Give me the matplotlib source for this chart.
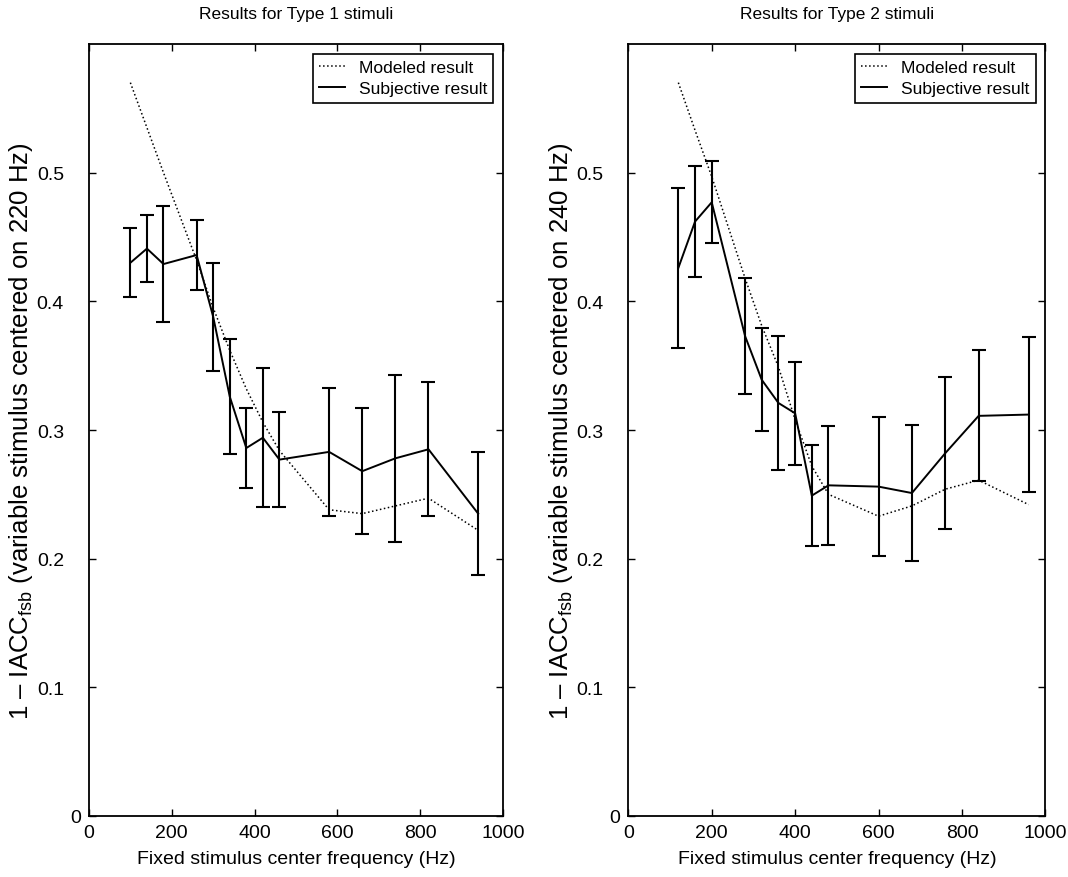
import numpy as np
import matplotlib
matplotlib.use("Agg")
import matplotlib.pyplot as plt
from matplotlib.transforms import ScaledTranslation

plt.rcParams['font.family'] = ['Liberation Sans', 'DejaVu Sans']
plt.rcParams['mathtext.fontset'] = 'custom'
plt.rcParams['mathtext.rm'] = 'Liberation Sans'
plt.rcParams['mathtext.it'] = 'Liberation Sans'

# Type 1 stimuli (variable stimulus centred on 220 Hz)
freq1 = [100, 140, 180, 260, 300, 340, 380, 420, 460, 580, 660, 740, 820, 940]
subj1 = [0.430, 0.441, 0.429, 0.436, 0.388, 0.326, 0.286, 0.294, 0.277, 0.283, 0.268, 0.278, 0.285, 0.235]
err1 = [0.027, 0.026, 0.045, 0.027, 0.042, 0.045, 0.031, 0.054, 0.037, 0.050, 0.049, 0.065, 0.052, 0.048]
model1 = [0.570, 0.535, 0.500, 0.432, 0.395, 0.362, 0.332, 0.306, 0.284, 0.238, 0.235, 0.241, 0.247, 0.222]

# Type 2 stimuli (variable stimulus centred on 240 Hz)
freq2 = [120, 160, 200, 280, 320, 360, 400, 440, 480, 600, 680, 760, 840, 960]
subj2 = [0.426, 0.462, 0.477, 0.373, 0.339, 0.321, 0.313, 0.249, 0.257, 0.256, 0.251, 0.282, 0.311, 0.312]
err2 = [0.062, 0.043, 0.032, 0.045, 0.040, 0.052, 0.040, 0.039, 0.046, 0.054, 0.053, 0.059, 0.051, 0.060]
model2 = [0.570, 0.533, 0.497, 0.418, 0.381, 0.349, 0.308, 0.272, 0.250, 0.233, 0.241, 0.254, 0.261, 0.242]

titles = ["Results for Type 1 stimuli", "Results for Type 2 stimuli"]
centres = ["220", "240"]
xticks = [0, 200, 400, 600, 800, 1000]
yticks = [0, 0.1, 0.2, 0.3, 0.4, 0.5]
ylabs = ['0', '0.1', '0.2', '0.3', '0.4', '0.5']

fig = plt.figure(figsize=(10.68, 8.78), dpi=100)
ax1 = fig.add_axes([0.0833, 0.0695, 0.3877, 0.8792])
ax2 = fig.add_axes([0.5883, 0.0695, 0.3905, 0.8792])

data = [(freq1, subj1, err1, model1), (freq2, subj2, err2, model2)]
for n, ax in enumerate([ax1, ax2]):
    f, s, e, m = data[n]
    ax.plot(f, m, 'k:', lw=1.1, label='Modeled result')
    ax.plot(f, s, 'k-', lw=1.4, label='Subjective result')
    ax.errorbar(f, s, yerr=e, fmt='none', ecolor='k', elinewidth=1.5,
                capsize=4.7, capthick=1.5)
    ax.set_xlim(0, 1000)
    ax.set_ylim(0, 0.6)
    ax.set_xticks(xticks)
    ax.set_yticks(yticks)
    ax.set_yticklabels(ylabs)
    ax.tick_params(direction='in', top=True, right=True, length=5,
                   width=1, labelsize=14)
    ax.tick_params(axis='x', pad=6)
    ax.tick_params(axis='y', pad=18)
    for sp in ax.spines.values():
        sp.set_linewidth(1.3)
    ax.set_title(titles[n], fontsize=12.5, pad=19)
    ax.set_xlabel('Fixed stimulus center frequency (Hz)', fontsize=14, labelpad=6)
    ax.set_ylabel('1 \u2013 IACC$_{\\mathrm{fsb}}$ (variable stimulus centered on '
                  + centres[n] + ' Hz)', fontsize=18.5, labelpad=1)
    leg = ax.legend(loc='upper right', fontsize=12.6, handlelength=1.5,
                    handletextpad=0.8, fancybox=False, framealpha=1,
                    edgecolor='k', borderaxespad=0.55, borderpad=0.35,
                    labelspacing=0.35)
    leg.get_frame().set_linewidth(1.2)
    # the "0" label sits further right, next to the axis
    zero = ax.yaxis.get_major_ticks()[0].label1
    zero.set_transform(zero.get_transform()
                       + ScaledTranslation(0.17, 0, fig.dpi_scale_trans))

fig.savefig('out.png', dpi=100)
